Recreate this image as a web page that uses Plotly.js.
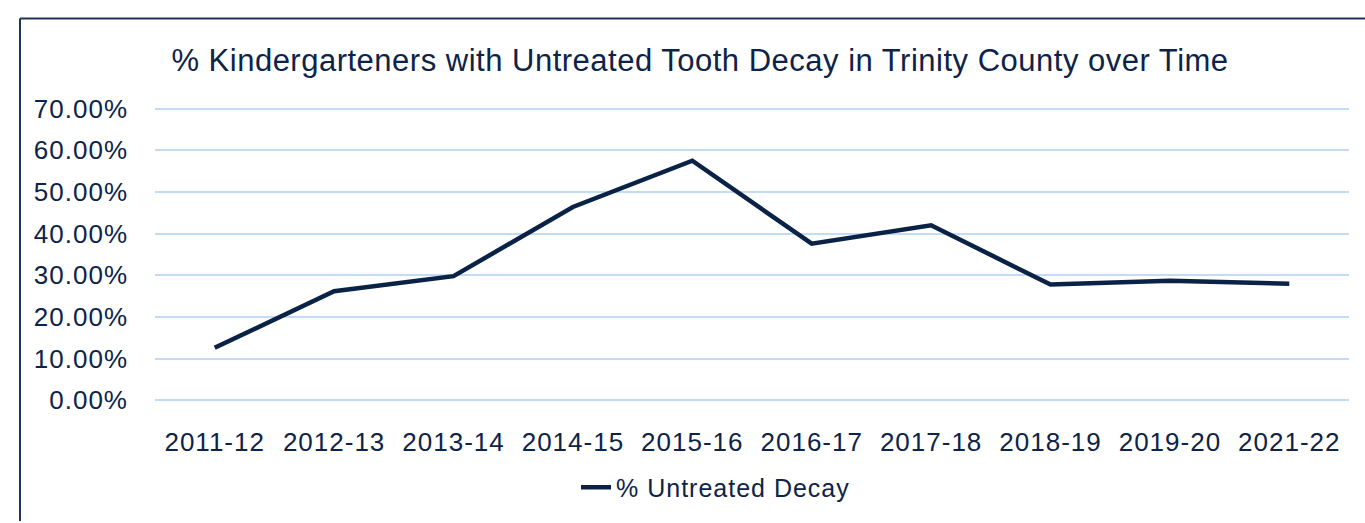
<!DOCTYPE html>
<html>
<head>
<meta charset="utf-8">
<script src="https://cdn.plot.ly/plotly-3.0.1.min.js"></script>
<style>
  html, body { margin: 0; padding: 0; background: #ffffff; }
  #chart { width: 1365px; height: 523px; }
  .gtitle { letter-spacing: 0.5px; }
  .xtick text, .ytick text, .legendtext { letter-spacing: 1px; }
</style>
</head>
<body>
<div id="chart"></div>
<script>
const categories = ["2011-12", "2012-13", "2013-14", "2014-15", "2015-16", "2016-17", "2017-18", "2018-19", "2019-20", "2021-22"];
const untreatedDecay = [0.126, 0.262, 0.298, 0.464, 0.575, 0.376, 0.420, 0.278, 0.287, 0.280];
const yTicks = [0, 0.1, 0.2, 0.3, 0.4, 0.5, 0.6, 0.7];
const seriesName = "% Untreated Decay";
const chartTitle = "% Kindergarteners with Untreated Tooth Decay in Trinity County over Time";

const W = 1365, H = 523;
const M = { l: 155, r: 16, t: 107, b: 116 };
const pw = W - M.l - M.r, ph = H - M.t - M.b;
const navy = "#0b2247";
const textColor = "#0d2349";
const font = "Liberation Sans, Arial, Helvetica, sans-serif";

// frame line position (pixels) converted to paper coords
const fx = (20 - M.l) / pw;
const fy = 1 + (M.t - 17) / ph;

const trace = {
  x: categories,
  y: untreatedDecay,
  type: "scatter",
  mode: "lines",
  name: seriesName,
  line: { color: navy, width: 4.5, shape: "linear" },
  hoverinfo: "x+y"
};

const layout = {
  width: W, height: H,
  margin: M,
  paper_bgcolor: "#ffffff",
  plot_bgcolor: "#ffffff",
  font: { family: font, color: textColor, size: 26 },
  title: {
    text: chartTitle,
    font: { family: font, size: 31, color: textColor },
    xref: "container", x: 700 / W, xanchor: "center",
    yref: "container", y: 1 - 60 / H, yanchor: "middle"
  },
  xaxis: {
    type: "category",
    range: [-0.5, categories.length - 0.5],
    showgrid: false, zeroline: false, showline: false,
    ticks: "", ticklabelstandoff: 22,
    tickfont: { family: font, size: 26, color: textColor },
    fixedrange: true
  },
  yaxis: {
    range: [-0.004, 0.704], tickvals: yTicks, tickformat: ".2%",
    showgrid: true, gridcolor: "#c4dbf5", gridwidth: 2,
    zeroline: false, showline: false,
    ticks: "", ticklabelstandoff: 26,
    tickfont: { family: font, size: 26, color: textColor },
    fixedrange: true
  },
  showlegend: true,
  legend: {
    orientation: "h",
    x: (576 - M.l) / pw, xanchor: "left",
    y: (407 - 494) / ph, yanchor: "middle",
    font: { family: font, size: 25, color: textColor },
    bgcolor: "rgba(0,0,0,0)"
  },
  shapes: [
    { type: "line", xref: "paper", yref: "paper", x0: fx, x1: 1 + (M.r + 5) / pw, y0: fy, y1: fy,
      line: { color: "#1c3558", width: 2 } },
    { type: "line", xref: "paper", yref: "paper", x0: fx, x1: fx, y0: fy, y1: -(M.b + 5) / ph,
      line: { color: "#1c3558", width: 2 } }
  ]
};

Plotly.newPlot("chart", [trace], layout, { displayModeBar: false, staticPlot: true });
</script>
</body>
</html>
